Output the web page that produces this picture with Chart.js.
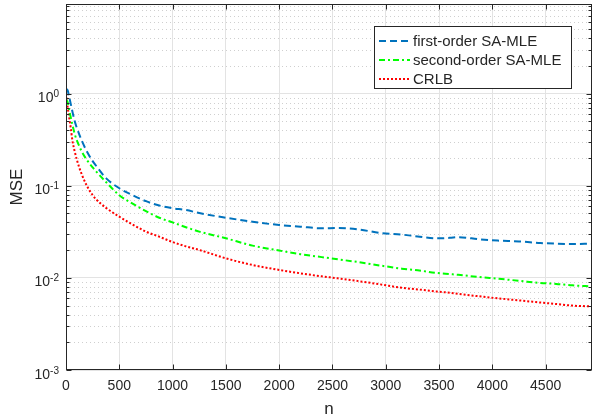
<!DOCTYPE html>
<html>
<head>
<meta charset="utf-8">
<script src="https://cdn.jsdelivr.net/npm/chart.js@4.4.0/dist/chart.umd.min.js"></script>
<style>
  html, body { margin: 0; padding: 0; background: #fff; }
</style>
</head>
<body>
<canvas id="mseChart" width="594" height="420"></canvas>
<script>
// values
const nValues = [1, 15, 30, 45, 60, 80, 100, 125, 150, 190, 250, 280, 375, 500, 625, 750, 875, 1000, 1125, 1250,
  1500, 1750, 2000, 2200, 2400, 2550, 2750, 2950, 3150, 3300, 3480, 3600, 3680, 3880, 4050, 4250, 4450, 4600,
  4750, 4935];
const firstOrderMSE = [1.12, 1.09, 0.92, 0.77, 0.64, 0.51, 0.43, 0.36, 0.305, 0.243, 0.185, 0.166, 0.121, 0.094,
  0.079, 0.068, 0.061, 0.057, 0.0545, 0.0505, 0.045, 0.0407, 0.0375, 0.036, 0.0345, 0.0348, 0.0335, 0.0307,
  0.0295, 0.0282, 0.0269, 0.0272, 0.0277, 0.0262, 0.0254, 0.0249, 0.0239, 0.0235, 0.0233, 0.0235];
const secondOrderMSE = [0.86, 0.81, 0.66, 0.55, 0.46, 0.37, 0.315, 0.268, 0.233, 0.195, 0.158, 0.144, 0.110, 0.079,
  0.064, 0.053, 0.045, 0.040, 0.0355, 0.0318, 0.0269, 0.0224, 0.0198, 0.0181, 0.0168, 0.0159, 0.0148, 0.0136,
  0.0126, 0.0121, 0.0113, 0.0110, 0.0108, 0.0102, 0.0098, 0.0093, 0.0088, 0.0086, 0.0083, 0.0081];
const crlbMSE = [1.0, 0.72, 0.55, 0.42, 0.31, 0.24, 0.195, 0.157, 0.131, 0.103, 0.079, 0.0717, 0.0576, 0.0462,
  0.038, 0.0318, 0.028, 0.0245, 0.022, 0.0201, 0.0163, 0.0138, 0.0122, 0.0112, 0.0104, 0.0099, 0.0092, 0.0085,
  0.0078, 0.0075, 0.0071, 0.0069, 0.0067, 0.0063, 0.0060, 0.0057, 0.0054, 0.0052, 0.0050, 0.0049];

const xTickValues = [0, 500, 1000, 1500, 2000, 2500, 3000, 3500, 4000, 4500];
const yDecadeExponents = [-3, -2, -1, 0];
const seriesLabels = ['first-order SA-MLE', 'second-order SA-MLE', 'CRLB'];

const FONT = "'Liberation Sans', Arial, Helvetica, sans-serif";
const TEXT = '#262626';

function toPoints(vals) {
  return nValues.map((n, i) => ({ x: n, y: vals[i] }));
}

// MATLAB style box, ticks, labels and legend
const matlabAxes = {
  id: 'matlabAxes',
  beforeDatasetsDraw(chart) {
    const { ctx, chartArea: a, scales: { y } } = chart;
    ctx.save();
    ctx.strokeStyle = '#cfcfcf';
    ctx.lineWidth = 1;
    ctx.setLineDash([1, 3]);
    yDecadeExponents.forEach(e => {
      for (let m = 2; m <= 9; m++) {
        const v = m * Math.pow(10, e);
        if (v > y.max) continue;
        const py = Math.round(y.getPixelForValue(v)) + 0.5;
        ctx.beginPath();
        ctx.moveTo(a.left, py);
        ctx.lineTo(a.right, py);
        ctx.stroke();
      }
    });
    ctx.restore();
  },
  afterDraw(chart) {
    const { ctx, chartArea: a, scales: { x, y } } = chart;
    const L = Math.round(a.left) + 0.5, R = Math.round(a.right) - 0.5;
    const T = Math.round(a.top) + 0.5, B = Math.round(a.bottom) - 0.5;
    ctx.save();
    ctx.strokeStyle = '#262626';
    ctx.lineWidth = 1;
    ctx.strokeRect(L, T, R - L, B - T);

    // tick marks
    ctx.beginPath();
    xTickValues.forEach(v => {
      const px = Math.round(x.getPixelForValue(v)) + 0.5;
      ctx.moveTo(px, B); ctx.lineTo(px, B - 5);
      ctx.moveTo(px, T); ctx.lineTo(px, T + 5);
    });
    yDecadeExponents.forEach(e => {
      for (let m = 1; m <= 9; m++) {
        const v = m * Math.pow(10, e);
        if (v > y.max) continue;
        const py = Math.round(y.getPixelForValue(v)) + 0.5;
        const len = m === 1 ? 5 : 3;
        ctx.moveTo(L, py); ctx.lineTo(L + len, py);
        ctx.moveTo(R, py); ctx.lineTo(R - len, py);
      }
    });
    ctx.stroke();

    // x tick labels
    ctx.fillStyle = TEXT;
    ctx.font = '14px ' + FONT;
    ctx.textAlign = 'center';
    ctx.textBaseline = 'middle';
    xTickValues.forEach(v => {
      ctx.fillText(String(v), x.getPixelForValue(v), 386);
    });

    // y tick labels 10^k
    ctx.textBaseline = 'alphabetic';
    ctx.textAlign = 'left';
    yDecadeExponents.forEach(e => {
      const py = y.getPixelForValue(Math.pow(10, e));
      ctx.font = '14px ' + FONT;
      const w1 = ctx.measureText('10').width;
      ctx.font = '10px ' + FONT;
      const exp = String(e);
      const w2 = ctx.measureText(exp).width;
      const x0 = 59 - w1 - w2;
      ctx.font = '14px ' + FONT;
      ctx.fillText('10', x0, py + 8.5);
      ctx.font = '10px ' + FONT;
      ctx.fillText(exp, x0 + w1, py + 3.5);
    });

    // axis titles
    ctx.font = '17px ' + FONT;
    ctx.textAlign = 'center';
    ctx.textBaseline = 'middle';
    ctx.fillText('n', (a.left + a.right) / 2, 409);
    ctx.save();
    ctx.translate(17, (a.top + a.bottom) / 2);
    ctx.rotate(-Math.PI / 2);
    ctx.fillText('MSE', 0, 0);
    ctx.restore();

    // legend
    const bx = 374.5, by = 26.5, bw = 197, bh = 62;
    ctx.fillStyle = '#fff';
    ctx.fillRect(bx, by, bw, bh);
    ctx.strokeStyle = '#262626';
    ctx.setLineDash([]);
    ctx.strokeRect(bx, by, bw, bh);
    const rowY = [41, 60, 79];
    chart.data.datasets.forEach((ds, i) => {
      ctx.save();
      ctx.strokeStyle = ds.borderColor;
      ctx.lineWidth = ds.borderWidth;
      ctx.setLineDash(ds.borderDash || []);
      ctx.beginPath();
      ctx.moveTo(379, rowY[i]);
      ctx.lineTo(410, rowY[i]);
      ctx.stroke();
      ctx.restore();
      ctx.fillStyle = TEXT;
      ctx.font = '15px ' + FONT;
      ctx.textAlign = 'left';
      ctx.textBaseline = 'middle';
      ctx.fillText(ds.label, 413, rowY[i] + 1);
    });
    ctx.restore();
  }
};

const ctx = document.getElementById('mseChart').getContext('2d');
const chart = new Chart(ctx, {
  type: 'line',
  data: {
    datasets: [{
      label: seriesLabels[0],
      data: toPoints(firstOrderMSE),
      borderColor: '#0072BD',
      borderWidth: 2,
      borderDash: [7, 4]
    }, {
      label: seriesLabels[1],
      data: toPoints(secondOrderMSE),
      borderColor: '#00FF00',
      borderWidth: 2,
      borderDash: [6, 3, 2, 3]
    }, {
      label: seriesLabels[2],
      data: toPoints(crlbMSE),
      borderColor: '#FF0000',
      borderWidth: 2,
      borderDash: [2, 2]
    }]
  },
  options: {
    responsive: false,
    animation: false,
    devicePixelRatio: 1,
    layout: { padding: { top: 4, right: 2, left: 0, bottom: 0 } },
    elements: { point: { radius: 0 }, line: { cubicInterpolationMode: 'monotone', fill: false } },
    plugins: { legend: { display: false }, tooltip: { enabled: false } },
    scales: {
      x: {
        type: 'linear',
        min: 0,
        max: 4935,
        afterBuildTicks: s => { s.ticks = xTickValues.map(v => ({ value: v })); },
        afterFit: s => { s.height = 50; },
        ticks: { display: false },
        grid: { color: '#e3e3e3', drawTicks: false },
        border: { display: false }
      },
      y: {
        type: 'logarithmic',
        min: 0.001,
        max: 9.4,
        afterBuildTicks: s => { s.ticks = yDecadeExponents.map(e => ({ value: Math.pow(10, e) })); },
        afterFit: s => { s.width = 66; },
        ticks: { display: false },
        grid: { color: '#e3e3e3', drawTicks: false },
        border: { display: false }
      }
    }
  },
  plugins: [matlabAxes]
});
</script>
</body>
</html>
